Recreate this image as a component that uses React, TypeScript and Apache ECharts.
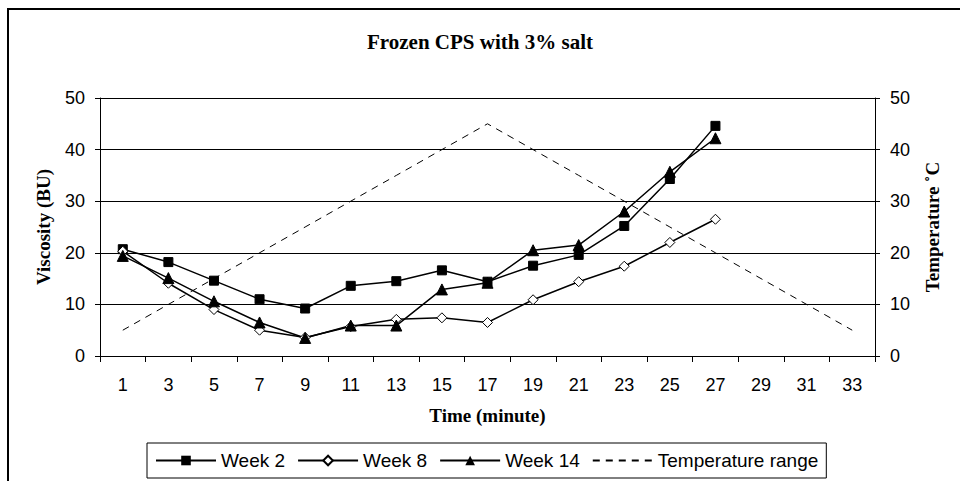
import React, { useEffect, useRef } from "react";
import * as echarts from "echarts";

const categories = ["1", "3", "5", "7", "9", "11", "13", "15", "17", "19", "21", "23", "25", "27", "29", "31", "33"];
const week2 = [20.7, 18.2, 14.6, 11.0, 9.2, 13.6, 14.5, 16.6, 14.4, 17.5, 19.6, 25.2, 34.3, 44.6];
const week8 = [20.3, 14.1, 9.0, 5.0, 3.6, 5.7, 7.1, 7.4, 6.5, 10.9, 14.4, 17.4, 22.0, 26.5];
const week14 = [19.4, 15.1, 10.6, 6.5, 3.5, 5.9, 5.9, 12.9, 14.2, 20.5, 21.5, 28.0, 35.7, 42.2];
const temperature = [5, 10, 15, 20, 25, 30, 35, 40, 45, 40, 35, 30, 25, 20, 15, 10, 5];

const SANS = "'Liberation Sans', Arial, sans-serif";
const SERIF = "'Liberation Serif', 'Times New Roman', serif";

export default function App() {
  const ref = useRef<HTMLDivElement>(null);
  useEffect(() => {
    if (!ref.current) return;
    const chart = echarts.init(ref.current, undefined, { renderer: "svg" });
    const axisText = { color: "#000", fontFamily: SANS, fontSize: 18 };
    chart.setOption({
      animation: false,
      backgroundColor: "#fff",
      title: {
        text: "Frozen CPS with 3% salt",
        left: "center",
        top: 26,
        textStyle: { fontFamily: SERIF, fontWeight: "bold", fontSize: 21, color: "#000" },
      },
      graphic: [
        {
          type: "rect",
          shape: { x: 8, y: 9, width: 1000, height: 600 },
          style: { fill: "none", stroke: "#000", lineWidth: 2 },
          silent: true,
        },
        {
          type: "text",
          x: 43,
          y: 227,
          rotation: Math.PI / 2,
          style: {
            text: "Viscosity (BU)",
            fontFamily: SERIF,
            fontWeight: "bold",
            fontSize: 19,
            fill: "#000",
            align: "center",
            verticalAlign: "middle",
          },
        },
        {
          type: "text",
          x: 932,
          y: 227,
          rotation: Math.PI / 2,
          style: {
            text: "Temperature ˚C",
            fontFamily: SERIF,
            fontWeight: "bold",
            fontSize: 19,
            fill: "#000",
            align: "center",
            verticalAlign: "middle",
          },
        },
      ],
      legend: {
        left: 147,
        top: 443,
        padding: [8, 8],
        itemWidth: 60,
        itemHeight: 12,
        itemGap: 12,
        borderColor: "#000",
        borderWidth: 1,
        textStyle: { fontFamily: SANS, fontSize: 19, color: "#000" },
        data: [
          "Week 2",
          "Week 8",
          "Week 14",
          { name: "Temperature range", itemStyle: { opacity: 0, borderWidth: 0 } },
        ],
      },
      grid: { left: 100, right: 85, top: 98, bottom: 125 },
      xAxis: {
        type: "category",
        data: categories,
        boundaryGap: true,
        name: "Time (minute)",
        nameLocation: "middle",
        nameGap: 50,
        nameTextStyle: { fontFamily: SERIF, fontWeight: "bold", fontSize: 19, color: "#000" },
        axisLine: { lineStyle: { color: "#000", width: 1 } },
        axisTick: { show: true, length: 6, lineStyle: { color: "#000" } },
        axisLabel: { ...axisText, margin: 20, interval: 0 },
        splitLine: { show: false },
      },
      yAxis: [
        {
          type: "value",
          min: 0,
          max: 50,
          interval: 10,
          axisLine: { show: true, lineStyle: { color: "#000", width: 1 } },
          axisTick: { show: true, length: 5, lineStyle: { color: "#000" } },
          axisLabel: { ...axisText, margin: 15 },
          splitLine: { show: true, lineStyle: { color: "#000", width: 1 } },
        },
        {
          type: "value",
          min: 0,
          max: 50,
          interval: 10,
          position: "right",
          axisLine: { show: true, lineStyle: { color: "#000", width: 1 } },
          axisTick: { show: true, length: 5, lineStyle: { color: "#000" } },
          axisLabel: { ...axisText, margin: 15 },
          splitLine: { show: false },
        },
      ],
      series: [
        {
          name: "Week 2",
          type: "line",
          data: week2,
          symbol: "rect",
          symbolSize: 9,
          lineStyle: { color: "#000", width: 1.5 },
          itemStyle: { color: "#000", borderColor: "#000" },
        },
        {
          name: "Week 8",
          type: "line",
          data: week8,
          symbol: "diamond",
          symbolSize: 10,
          lineStyle: { color: "#000", width: 1.5 },
          itemStyle: { color: "#fff", borderColor: "#000", borderWidth: 1 },
        },
        {
          name: "Week 14",
          type: "line",
          data: week14,
          symbol: "triangle",
          symbolSize: 11,
          lineStyle: { color: "#000", width: 1.5 },
          itemStyle: { color: "#000", borderColor: "#000" },
        },
        {
          name: "Temperature range",
          type: "line",
          yAxisIndex: 1,
          data: temperature,
          symbol: "none",
          lineStyle: { color: "#000", width: 1, type: [7, 6] },
          itemStyle: { color: "#000" },
        },
      ],
    });
    return () => chart.dispose();
  }, []);
  return <div ref={ref} style={{ position: "fixed", left: 0, top: 0, width: 960, height: 481 }} />;
}
